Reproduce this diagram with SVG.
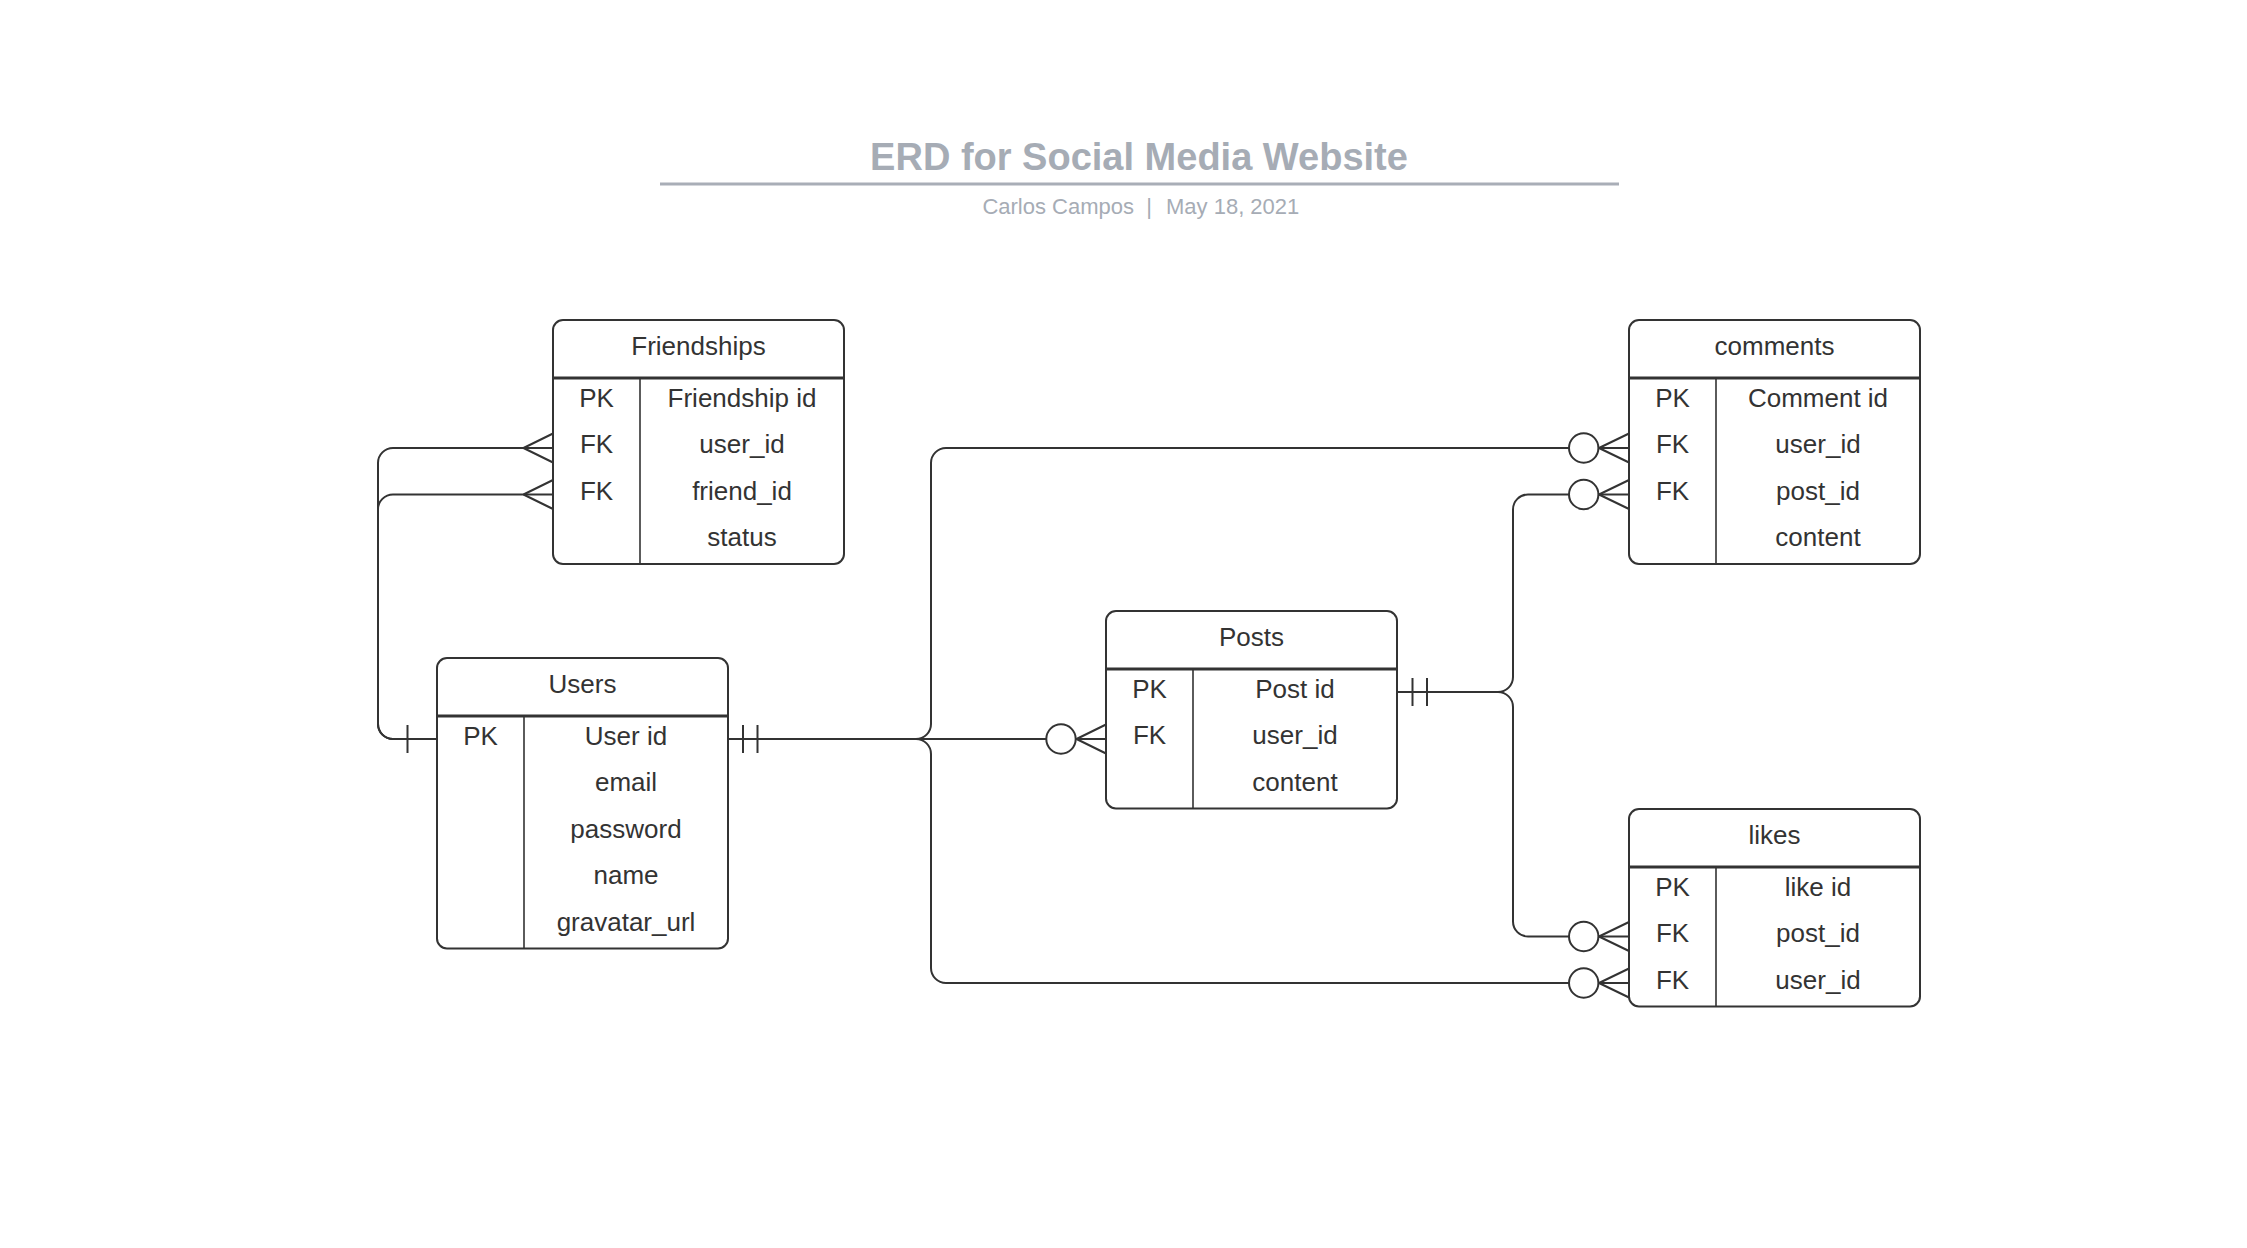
<svg xmlns="http://www.w3.org/2000/svg" width="2247" height="1248" viewBox="0 0 2247 1248">
<style>
.box{fill:#fff;stroke:#333;stroke-width:2}
.hdr{stroke:#333;stroke-width:3}
.col{stroke:#333;stroke-width:1.6}
.t{font-family:"Liberation Sans",Arial,sans-serif;font-size:26px;fill:#333;text-anchor:middle}
.c{fill:none;stroke:#333;stroke-width:2}
.o{fill:#fff;stroke:#333;stroke-width:2}
.title{font-family:"Liberation Sans",Arial,sans-serif;font-size:38px;font-weight:bold;fill:#a6acb5;text-anchor:middle}
.sub{font-family:"Liberation Sans",Arial,sans-serif;font-size:22px;fill:#a6acb5}
</style>
<rect width="2247" height="1248" fill="#fff"/>
<g id="title">
<text class="title" x="1139" y="170">ERD for Social Media Website</text>
<line x1="660" y1="184" x2="1619" y2="184" stroke="#a9aeb7" stroke-width="3"/>
<text class="sub" x="1134" y="214" text-anchor="end">Carlos Campos</text>
<text class="sub" x="1149" y="214" text-anchor="middle">|</text>
<text class="sub" x="1166" y="214">May 18, 2021</text>
</g>
<g id="connectors">
<path class="c" d="M437 739 H393 A15 15 0 0 1 378 724 V463 A15 15 0 0 1 393 448 H553"/>
<path class="c" d="M437 739 H393 A15 15 0 0 1 378 724 V509.5 A15 15 0 0 1 393 494.5 H553"/>
<line class="c" x1="407.5" y1="725" x2="407.5" y2="753"/>
<path class="c" d="M523.5 448 L553 433.5 M523.5 448 L553 462.5"/>
<path class="c" d="M523.5 494.5 L553 480 M523.5 494.5 L553 509"/>
<path class="c" d="M728 739 H1106"/>
<path class="c" d="M728 739 H916 A15 15 0 0 0 931 724 V463 A15 15 0 0 1 946 448 H1629"/>
<path class="c" d="M728 739 H916 A15 15 0 0 1 931 754 V968 A15 15 0 0 0 946 983 H1629"/>
<line class="c" x1="743" y1="725" x2="743" y2="753"/>
<line class="c" x1="757.5" y1="725" x2="757.5" y2="753"/>
<path class="c" d="M1076.5 739 L1106 724.5 M1076.5 739 L1106 753.5"/>
<circle class="o" cx="1061" cy="739" r="14.7"/>
<path class="c" d="M1397 692 H1498 A15 15 0 0 0 1513 677 V509.5 A15 15 0 0 1 1528 494.5 H1629"/>
<path class="c" d="M1397 692 H1498 A15 15 0 0 1 1513 707 V921.5 A15 15 0 0 0 1528 936.5 H1629"/>
<line class="c" x1="1412.5" y1="678" x2="1412.5" y2="706"/>
<line class="c" x1="1427" y1="678" x2="1427" y2="706"/>
<path class="c" d="M1599 448 L1629 433.5 M1599 448 L1629 462.5"/>
<circle class="o" cx="1583.7" cy="448" r="14.7"/>
<path class="c" d="M1599 494.5 L1629 480 M1599 494.5 L1629 509"/>
<circle class="o" cx="1583.7" cy="494.5" r="14.7"/>
<path class="c" d="M1599 936.5 L1629 922 M1599 936.5 L1629 951"/>
<circle class="o" cx="1583.7" cy="936.5" r="14.7"/>
<path class="c" d="M1599 983 L1629 968.5 M1599 983 L1629 997.5"/>
<circle class="o" cx="1583.7" cy="983" r="14.7"/>
</g>
<g id="friendships">
<rect class="box" x="553" y="320" width="291" height="244" rx="10"/>
<line class="hdr" x1="553" y1="378" x2="844" y2="378"/>
<line class="col" x1="640" y1="378" x2="640" y2="564"/>
<text class="t" x="698.5" y="355">Friendships</text>
<text class="t" x="596.5" y="406.5">PK</text><text class="t" x="742" y="406.5">Friendship id</text>
<text class="t" x="596.5" y="453">FK</text><text class="t" x="742" y="453">user_id</text>
<text class="t" x="596.5" y="499.5">FK</text><text class="t" x="742" y="499.5">friend_id</text>
<text class="t" x="742" y="546">status</text>
</g>
<g id="users">
<rect class="box" x="437" y="658" width="291" height="290.5" rx="10"/>
<line class="hdr" x1="437" y1="716" x2="728" y2="716"/>
<line class="col" x1="524" y1="716" x2="524" y2="948.5"/>
<text class="t" x="582.5" y="693">Users</text>
<text class="t" x="480.5" y="744.5">PK</text><text class="t" x="626" y="744.5">User id</text>
<text class="t" x="626" y="791">email</text>
<text class="t" x="626" y="837.5">password</text>
<text class="t" x="626" y="884">name</text>
<text class="t" x="626" y="930.5">gravatar_url</text>
</g>
<g id="posts">
<rect class="box" x="1106" y="611" width="291" height="197.5" rx="10"/>
<line class="hdr" x1="1106" y1="669" x2="1397" y2="669"/>
<line class="col" x1="1193" y1="669" x2="1193" y2="808.5"/>
<text class="t" x="1251.5" y="646">Posts</text>
<text class="t" x="1149.5" y="697.5">PK</text><text class="t" x="1295" y="697.5">Post id</text>
<text class="t" x="1149.5" y="744">FK</text><text class="t" x="1295" y="744">user_id</text>
<text class="t" x="1295" y="790.5">content</text>
</g>
<g id="comments">
<rect class="box" x="1629" y="320" width="291" height="244" rx="10"/>
<line class="hdr" x1="1629" y1="378" x2="1920" y2="378"/>
<line class="col" x1="1716" y1="378" x2="1716" y2="564"/>
<text class="t" x="1774.5" y="355">comments</text>
<text class="t" x="1672.5" y="406.5">PK</text><text class="t" x="1818" y="406.5">Comment id</text>
<text class="t" x="1672.5" y="453">FK</text><text class="t" x="1818" y="453">user_id</text>
<text class="t" x="1672.5" y="499.5">FK</text><text class="t" x="1818" y="499.5">post_id</text>
<text class="t" x="1818" y="546">content</text>
</g>
<g id="likes">
<rect class="box" x="1629" y="809" width="291" height="197.5" rx="10"/>
<line class="hdr" x1="1629" y1="867" x2="1920" y2="867"/>
<line class="col" x1="1716" y1="867" x2="1716" y2="1006.5"/>
<text class="t" x="1774.5" y="844">likes</text>
<text class="t" x="1672.5" y="895.5">PK</text><text class="t" x="1818" y="895.5">like id</text>
<text class="t" x="1672.5" y="942">FK</text><text class="t" x="1818" y="942">post_id</text>
<text class="t" x="1672.5" y="988.5">FK</text><text class="t" x="1818" y="988.5">user_id</text>
</g>
</svg>
